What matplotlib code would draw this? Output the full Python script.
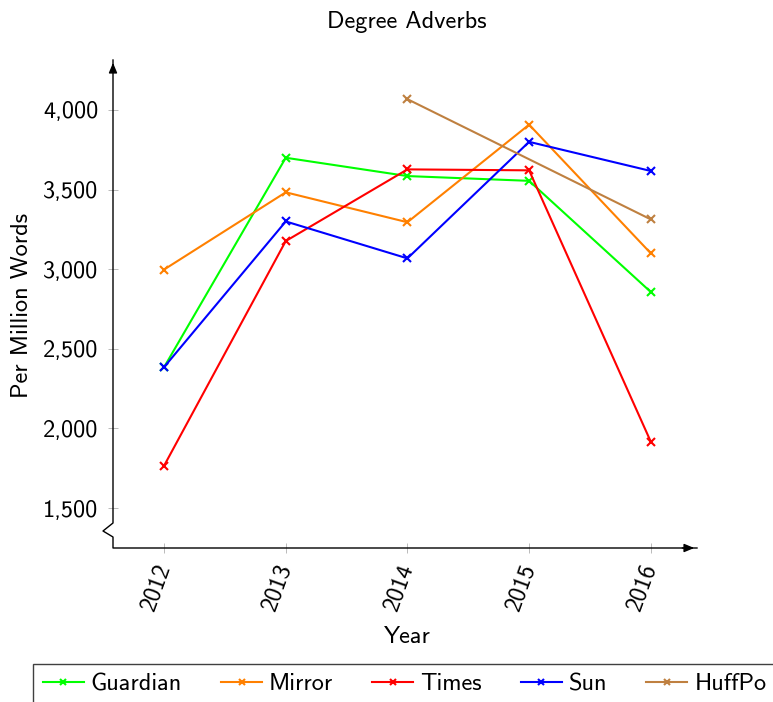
import matplotlib
matplotlib.use("Agg")
import matplotlib.pyplot as plt
from matplotlib.patches import Rectangle

plt.rcParams["font.family"] = ["cmss10", "DejaVu Sans"]
plt.rcParams["axes.formatter.use_mathtext"] = True

years = [2012, 2013, 2014, 2015, 2016]
guardian = [2385, 3700, 3585, 3555, 2857]
mirror = [2998, 3483, 3295, 3908, 3100]
times = [1766, 3177, 3627, 3621, 1917]
sun = [2385, 3300, 3068, 3800, 3617]
huffpo_years = [2014, 2016]
huffpo = [4068, 3313]

series = [
    ("Guardian", years, guardian, "#00ff00"),
    ("Mirror", years, mirror, "#ff8000"),
    ("Times", years, times, "#ff0000"),
    ("Sun", years, sun, "#0000ff"),
    ("HuffPo", huffpo_years, huffpo, "#bf8040"),
]
yticks = [1500, 2000, 2500, 3000, 3500, 4000]

FS = 17.5
W, H = 773, 702
fig = plt.figure(figsize=(W / 100, H / 100), dpi=100)
ax = fig.add_axes([113 / W, 1 - 548 / H, (697 - 113) / W, (548 - 60) / H])

handles = []
for name, xs, ys, col in series:
    (h,) = ax.plot(xs, ys, color=col, lw=1.5, marker="x", ms=6, mew=1.5, label=name)
    handles.append(h)

ax.set_xlim(2011.58, 2016.38)
ax.set_ylim(1249, 4314)
ax.set_xticks(years)
ax.set_xticklabels([str(y) for y in years], rotation=70, ha="right",
                   va="center", rotation_mode="anchor", fontsize=FS)
ax.set_yticks(yticks)
ax.set_yticklabels([f"{v:,}" for v in yticks], fontsize=FS)
ax.tick_params(direction="inout", length=7, width=0.6, color="#b0b0b0", pad=7)
ax.tick_params(axis="x", pad=8)

for s in ax.spines.values():
    s.set_visible(False)

# axis lines with a break marker on the y axis
px = 1 / (697 - 113)
py = 1 / (548 - 60)
ax.plot([0, 0, -10 * px, 0, 0, 1], [1, 25 * py, 17 * py, 11 * py, 0, 0],
        transform=ax.transAxes, color="black", lw=1.0, clip_on=False)
arrow = dict(arrowstyle="-|>,head_length=0.6,head_width=0.25", color="black", lw=1.0)
ax.annotate("", xy=(0, 1.0), xytext=(0, 0.97), xycoords="axes fraction", arrowprops=arrow)
ax.annotate("", xy=(1.0, 0), xytext=(0.97, 0), xycoords="axes fraction", arrowprops=arrow)

fig.text(407 / W, 1 - 22 / H, "Degree Adverbs", ha="center", va="center", fontsize=FS)
fig.text(407 / W, 1 - 637 / H, "Year", ha="center", va="center", fontsize=FS)
fig.text(22 / W, 1 - 305 / H, "Per Million Words", ha="center", va="center",
         rotation=90, fontsize=FS)

# legend box
fig.patches.append(Rectangle((33 / W, -0.1), 1.0, 0.1 + (702 - 664) / H,
                             transform=fig.transFigure, fill=False,
                             edgecolor="#404040", lw=1.0))
fig.legend(handles=handles, loc="center left", bbox_to_anchor=(33 / W, 1 - 684 / H),
           ncol=5, frameon=False, fontsize=FS, handlelength=1.69, handletextpad=0.29,
           columnspacing=1.6, borderaxespad=0, markerscale=0.7)

fig.savefig("out.png", dpi=100)
